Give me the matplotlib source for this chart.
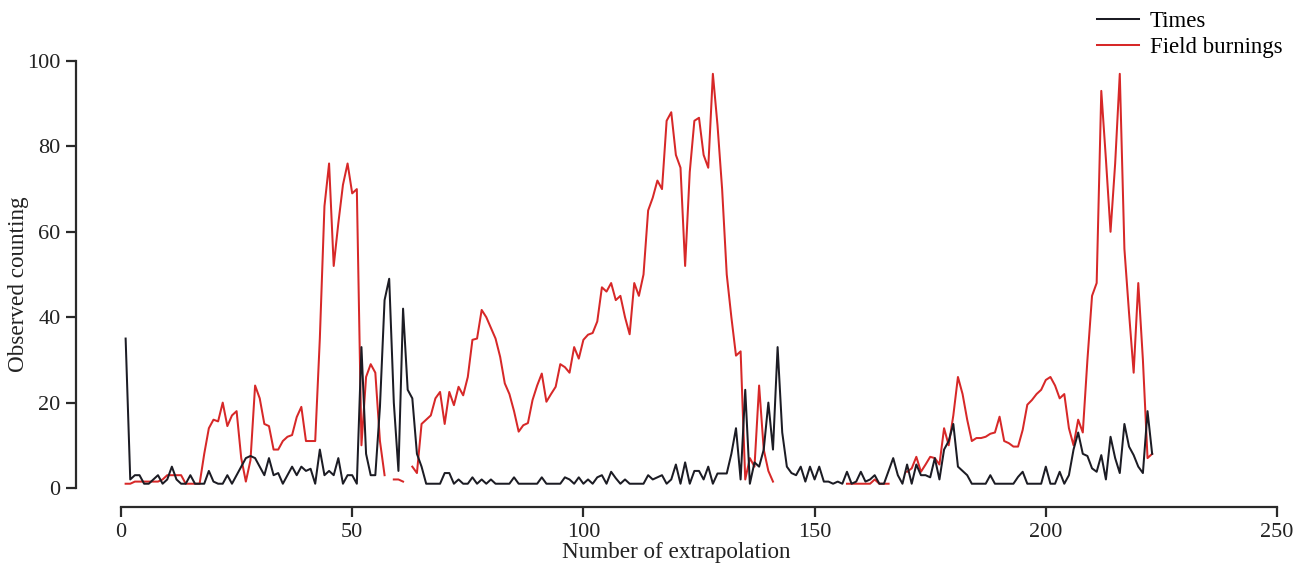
import numpy as np
import matplotlib
matplotlib.use("Agg")
import matplotlib.pyplot as plt

nan = np.nan

times = [
    35, 2, 3, 3, 1, 1, 2, 3, 1, 2,
    5, 2, 1, 1, 3, 1, 1, 1, 4, 1.5,
    1, 1, 3, 1, 3, 5, 7, 7.5, 7, 5,
    3, 7, 3, 3.5, 1, 3, 5, 3, 5, 4,
    4.5, 1, 9, 3, 4, 3, 7, 1, 3, 3,
    1, 33, 8, 3, 3, 19, 44, 49, 20, 4,
    42, 23, 21, 8, 5, 1, 1, 1, 1, 3.5,
    3.5, 1, 2, 1, 1, 2.5, 1, 2, 1, 2,
    1, 1, 1, 1, 2.5, 1, 1, 1, 1, 1,
    2.5, 1, 1, 1, 1, 2.5, 2, 1, 2.5, 1,
    2, 1, 2.5, 3, 1, 3.8, 2.3, 1, 2, 1,
    1, 1, 1, 3, 2, 2.5, 3, 1, 2, 5.5,
    1, 6, 1, 4, 4, 2, 5, 1, 3.4, 3.4,
    3.4, 8, 14, 2, 23, 1, 6, 5, 9, 20,
    9, 33, 13, 5, 3.5, 3, 5, 1.5, 5, 2,
    5, 1.5, 1.5, 1, 1.5, 1, 3.8, 1, 1.5, 3.8,
    1.5, 2, 3, 1, 1, 4, 7, 3, 1, 5.5,
    1, 5.5, 3, 3, 2.5, 7, 2, 9, 11, 15,
    5, 4, 3, 1, 1, 1, 1, 3, 1, 1,
    1, 1, 1, 2.6, 3.8, 1, 1, 1, 1, 5,
    1, 1, 3.8, 1, 3, 9, 13, 8, 7.5, 4.6,
    3.8, 7.7, 2, 12, 7, 3.5, 15, 9.7, 7.7, 5,
    3.5, 18, 8,
]

field_burnings = [
    1, 1, 1.5, 1.5, 1.5, 1.5, 1.5, 1.5, 2, 3,
    3, 3, 3, 1, 1, 1, 1, 8, 14, 16,
    15.6, 20, 14.5, 17, 18, 7, 1.5, 6.5, 24, 21,
    15, 14.5, 9, 9, 11, 12, 12.4, 16.6, 19, 11,
    11, 11, 35, 66, 76, 52, 62, 71, 76, 69,
    70, 10, 26, 29, 27, 11, 3, nan, 2, 2,
    1.5, nan, 5, 3.5, 15, 16, 17, 21, 22.5, 15,
    22.5, 19.4, 23.7, 21.7, 26, 34.7, 35, 41.7, 40, 37.5,
    35, 30.7, 24.5, 22, 18, 13.2, 14.7, 15.2, 20.6, 24,
    26.8, 20.2, 22, 23.7, 29, 28.3, 27, 33, 30.3, 34.7,
    35.9, 36.3, 39, 47, 46, 48, 44, 45, 40, 36,
    48, 45, 50, 65, 68, 72, 70, 86, 88, 78,
    75, 52, 74, 86, 86.7, 78, 75, 97, 85, 70,
    50, 40, 31, 32, 2, 7, 5, 24, 9, 4,
    1.5, nan, nan, nan, nan, nan, nan, nan, nan, nan,
    nan, nan, nan, nan, nan, nan, 1, 1, 1, 1,
    1, 1, 2, 1, 1, 1, nan, nan, nan, 3.8,
    4.6, 7.3, 3.8, 5.5, 7.3, 7, 5.5, 14, 10, 17,
    26, 22, 16, 11, 11.7, 11.7, 12, 12.7, 13, 16.7,
    11, 10.5, 9.7, 9.7, 13.6, 19.5, 20.6, 22, 23, 25.3,
    26, 24, 21, 22, 14, 10, 16, 13, 30, 45,
    48, 93, 77, 60, 76, 97, 56, 41, 27, 48,
    30, 7, 8,
]

x_values = list(range(1, len(times) + 1))
x_ticks = [0, 50, 100, 150, 200, 250]
y_ticks = [0, 20, 40, 60, 80, 100]

plt.rcParams['font.family'] = ['Liberation Serif', 'DejaVu Serif']

fig = plt.figure(figsize=(13.07, 5.63), dpi=100)
W, H = 1307, 563
left_px, right_px = 76, 1277
top_px, bottom_px = 61, 507
ax = fig.add_axes([left_px / W, 1 - bottom_px / H,
                   (right_px - left_px) / W, (bottom_px - top_px) / H])

red_line, = ax.plot(x_values, field_burnings, color='#d72828', lw=1.45,
                    zorder=2, label='Field burnings')
blk_line, = ax.plot(x_values, times, color='#1c1c24', lw=1.45,
                    zorder=3, label='Times')

px_per_x = (1277 - 121) / 250.0
xmin = -(121 - left_px) / px_per_x
px_per_y = (488 - 61) / 100.0
ymin = -(bottom_px - 488) / px_per_y
ax.set_xlim(xmin, 250)
ax.set_ylim(ymin, 100)

ax.set_xticks(x_ticks)
ax.set_yticks(y_ticks)
for s in ['top', 'right']:
    ax.spines[s].set_visible(False)
ax.spines['left'].set_bounds(0, 100)
ax.spines['bottom'].set_bounds(0, 250)
for s in ['left', 'bottom']:
    ax.spines[s].set_linewidth(1.6)
    ax.spines[s].set_color('#2a2a2a')
ax.tick_params(axis='both', direction='out', length=7.5, width=1.6,
               color='#2a2a2a', labelsize=16, labelcolor='#222222')
ax.tick_params(axis='y', pad=3.5)
ax.tick_params(axis='x', pad=4)

ax.set_xlabel('Number of extrapolation', fontsize=16.7, color='#222222', labelpad=0)
ax.set_ylabel('Observed counting', fontsize=16.7, color='#222222')
ax.yaxis.set_label_coords((29 - left_px) / (right_px - left_px), 0.5)

fig.legend(handles=[blk_line, red_line], labels=['Times', 'Field burnings'],
           loc='upper left', bbox_to_anchor=(1097 / W, 1 - 11 / H),
           frameon=False, fontsize=16.5, handlelength=1.85, handletextpad=0.45,
           labelspacing=0.2, borderpad=0, borderaxespad=0)

fig.savefig('out.png', dpi=100)
